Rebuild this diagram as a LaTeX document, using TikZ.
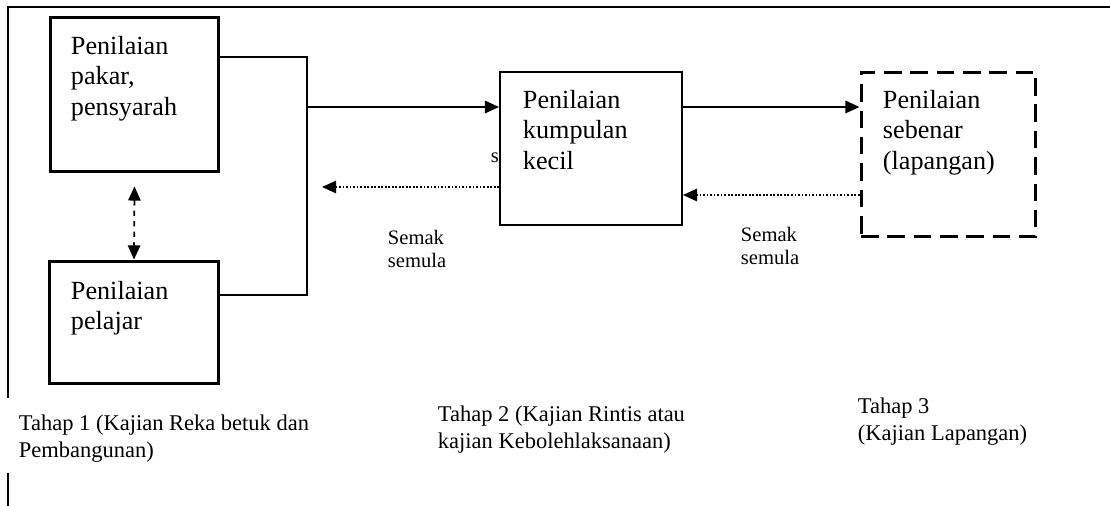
\documentclass[tikz,border=0pt]{standalone}
\usepackage{fontspec}
\setmainfont{Liberation Serif}
\usetikzlibrary{positioning, arrows.meta}

\begin{document}
\begin{tikzpicture}[
    x=0.02cm, y=-0.02cm,
    >={Triangle[length=8pt,width=7pt]},
    line width=1.1pt,
    box/.style={draw, line width=1.7pt, inner sep=0pt},
    boxtext/.style={anchor=north west, align=left, inner sep=0pt,
        font=\fontsize{14.9}{17.5}\selectfont},
    stagetext/.style={anchor=north west, align=left, inner sep=0pt,
        font=\fontsize{12.8}{15.2}\selectfont},
    notetext/.style={anchor=north west, align=left, inner sep=0pt,
        font=\fontsize{11.7}{13.5}\selectfont},
    backarrow/.style={->, line width=1.2pt, dash pattern=on 1pt off 1pt}
]

    \useasboundingbox (0,0) rectangle (1110,506);

    % outer frame (top and left only)
    \draw[line width=1.7pt] (8,398) -- (8,7) -- (1110,7);
    \draw[line width=1.7pt] (8,473) -- (8,506);

    % Tahap 1 boxes
    \node[box, minimum width=3.38cm, minimum height=3.1cm] (pakar) at (134.5,94.5) {};
    \node[boxtext] (pakar-txt) at (70,35) {Penilaian\\pakar,\\pensyarah};
    \node[box, minimum width=3.4cm, minimum height=2.46cm] (pelajar) at (134,322.5) {};
    \node[boxtext] (pelajar-txt) at (70,280) {Penilaian\\pelajar};

    % Tahap 2 box
    \node[box, line width=1.1pt, minimum width=3.64cm, minimum height=3.06cm] (kumpulan) at (591,148.5) {};
    \node[boxtext] (kumpulan-txt) at (522,89) {Penilaian\\kumpulan\\kecil};
    \node[notetext] (s-txt) at (490,152) {s};

    % Tahap 3 box (dashed)
    \node[box, dash pattern=on 10pt off 5pt, minimum width=3.5cm, minimum height=3.3cm] (sebenar) at (948.5,154.5) {};
    \node[boxtext] (sebenar-txt) at (882,89) {Penilaian\\sebenar\\(lapangan)};

    % junction points
    \coordinate (jtop) at (307,57);
    \coordinate (jbot) at (307,295);
    \coordinate (jmid) at (307,107);
    \coordinate (ret1) at (322,187);
    \coordinate (ret2) at (700,195);

    % forward flow
    \draw (pakar.east |- jtop) -- (jtop) -- (jbot) -- (pelajar.east |- jbot);
    \draw[->] (jmid) -- (kumpulan.west |- jmid);
    \draw[->] (kumpulan.east |- jmid) -- (sebenar.west |- jmid);
    \draw[<->, dashed, line width=1pt] ([yshift=-0.26cm]pakar.south) -- (pelajar.north);

    % Semak semula (back)
    \draw[backarrow] (kumpulan.west |- ret1) -- (ret1);
    \draw[backarrow] (sebenar.west |- ret2) -- (kumpulan.east |- ret2);

    \node[notetext] (semak1) at (387,229) {Semak\\semula};
    \node[notetext] (semak2) at (740,226) {Semak\\semula};

    % stages
    \node[stagetext] (tahap1) at (18,414) {Tahap 1 (Kajian Reka betuk dan\\Pembangunan)};
    \node[stagetext] (tahap2) at (437,405) {Tahap 2 (Kajian Rintis atau\\kajian Kebolehlaksanaan)};
    \node[stagetext] (tahap3) at (857,397) {Tahap 3\\(Kajian Lapangan)};

\end{tikzpicture}
\end{document}
